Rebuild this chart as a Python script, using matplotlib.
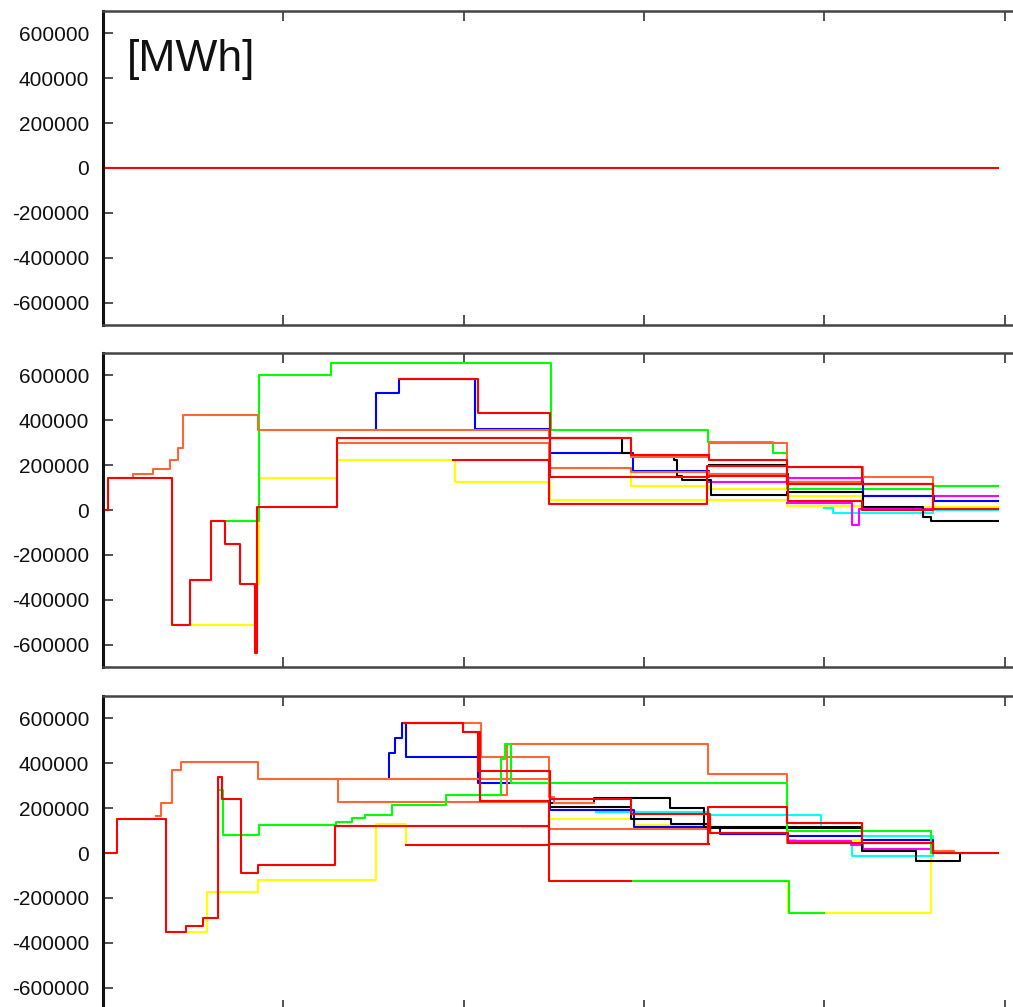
import matplotlib
matplotlib.use('Agg')
import matplotlib.pyplot as plt
from matplotlib.ticker import FuncFormatter

# energy balance series, y in thousand MWh, x in time units (ticks every 100)
# each series: (x, y) breakpoints, value holds until the next breakpoint

# top panel
p1_red = [(0, 0), (496, 0)]

# middle panel
p2_red_a = [(0, 0), (2.5, 142), (38.5, -511), (48, -311), (60, -49), (67.5, -151), (76, -329),
            (84, -636), (85.5, 13), (129.7, 321), (292.5, 244), (336, 225), (379.5, 193),
            (421, 118), (460, 3), (496, 3)]
p2_orange_a = [(9, 145), (16.6, 161), (27.7, 182), (37, 222), (41.5, 275), (44.3, 422), (86, 355),
               (247.5, 323), (292.5, 238), (336, 300), (379.5, 193), (421.5, 148), (460, 3), (496, 3)]
p2_orange_b = [(129.7, 297), (247.5, 188), (292.5, 170), (336, 160), (379.5, 126), (421, 118), (460, 3)]
p2_green = [(66.5, -49), (86.5, 600), (126.5, 655), (248.5, 355), (335.5, 303), (371.5, 256),
            (379.5, 93), (460.3, 107), (496, 107)]
p2_blue = [(149.7, 358), (151.5, 524), (164, 584), (206, 363), (248, 255), (294, 173), (336, 160),
           (380, 126), (421.5, 64), (460.5, 41), (496, 41)]
p2_red_c = [(164, 584), (208, 432), (248, 148), (336, 151), (380, 40), (421, 0), (460, 3)]
p2_red_d = [(194, 222), (247.5, 26), (335, 196), (379.5, 116), (421, 118), (460, 3)]
p2_yellow_a = [(46.5, -511), (84, -330), (86.5, 142), (129.7, 222), (195, 126), (248, 47),
               (379.5, 19), (421, 15), (496, 15)]
p2_yellow_b = [(248, 188), (292.7, 108), (336, 96), (379.5, 62), (421, 15)]
p2_black_a = [(248, 323), (288, 255), (292.7, 244), (316.5, 225), (318.5, 153), (321, 133),
              (337, 67), (379.5, 81), (421.5, 15), (454.5, -30), (459, -47), (496, -47)]
p2_black_b = [(336, 200), (379.5, 126), (421, 126)]
p2_magenta_a = [(336, 126), (379.5, 144), (421.5, 64), (496, 64)]
p2_magenta_b = [(379.5, 30), (415.5, -67), (419, 3), (460, 3)]
p2_cyan = [(400, 7), (405, -12), (460, 0), (496, 0)]

# bottom panel
p3_red_a = [(0, 0), (7.5, 150), (35, -353), (46, -327), (55.5, -290), (64, 338), (66, 240),
            (76.5, -90), (86, -53), (128.5, 120), (247.5, 42), (335.5, 206), (379.5, 135),
            (421, 44), (460, 0), (496, 0)]
p3_orange_a = [(29.5, 163), (32, 222), (38.5, 370), (43.5, 407), (86, 330), (247.5, 330)]
p3_orange_b = [(128.5, 330), (130.5, 228), (247.5, 109), (336, 100)]
p3_orange_c = [(219, 259), (224, 486), (335.5, 351), (379.5, 44), (460, 8), (472, 0)]
p3_orange_d = [(167, 581), (209.5, 427), (247.5, 250), (250, 222), (272, 222)]
p3_green_a = [(64.5, 280), (66.5, 80), (86.5, 127), (129, 139), (138, 154), (145, 169),
              (160.5, 216), (190, 259), (220.5, 420), (223, 486), (226, 311), (379.5, 96),
              (459, 0), (460, 0)]
p3_green_b = [(292.7, -125), (380.5, -268), (400, -268)]
p3_blue = [(157, 330), (158.5, 444), (162, 511), (166, 578), (168, 430), (208, 311), (248, 193),
           (294.5, 117), (342, 85), (379, 78), (421, 59), (460, 0)]
p3_red_c = [(167, 581), (199.5, 541), (208, 366), (248, 240), (292.7, 172), (336.5, 90),
            (380, 44), (460, 0)]
p3_red_d = [(167, 581), (199.5, 541), (209, 230), (247.5, 42), (336, 42)]
p3_red_e = [(168, 37), (247.5, -126), (292.7, -126)]
p3_yellow_a = [(45.5, -353), (57.5, -172), (86, -120), (151.5, 128), (168, 38), (247.5, -126),
               (380, -267), (459, 0), (460, 0)]
p3_yellow_b = [(232.5, 118), (247.5, 150), (295, 126), (337, 89), (380, 60), (421, 60)]
p3_black_a = [(248.5, 222), (272, 244), (314.5, 200), (333, 115), (421, 8), (451, -36),
              (475, 0), (476, 0)]
p3_black_b = [(248.5, 205), (293, 150), (315, 130), (336, 110), (421, 110)]
p3_cyan_a = [(273.5, 181), (336, 170), (398, 110), (421, 74), (460, 0)]
p3_cyan_b = [(380, 60), (384, 43), (415.5, -12), (460, 0)]
p3_magenta = [(379, 55), (415, 36), (421.5, 17), (460, 0)]

red = '#ff0000'
orange = '#ff6633'
green = '#00ff00'
blue = '#0000ff'
yellow = '#ffff00'
black = '#000000'
magenta = '#ff00ff'
cyan = '#00ffff'

# drawing order: first drawn ends up underneath
panels = [
    [(p1_red, red)],
    [(p2_yellow_a, yellow), (p2_yellow_b, yellow), (p2_green, green), (p2_cyan, cyan),
     (p2_magenta_a, magenta), (p2_magenta_b, magenta), (p2_blue, blue), (p2_black_a, black),
     (p2_black_b, black), (p2_orange_a, orange), (p2_orange_b, orange), (p2_red_c, red),
     (p2_red_d, red), (p2_red_a, red)],
    [(p3_yellow_a, yellow), (p3_green_b, green), (p3_yellow_b, yellow),
     (p3_cyan_a, cyan), (p3_cyan_b, cyan), (p3_magenta, magenta), (p3_blue, blue),
     (p3_black_a, black), (p3_black_b, black), (p3_orange_a, orange), (p3_orange_b, orange),
     (p3_orange_c, orange), (p3_orange_d, orange), (p3_green_a, green), (p3_red_d, red),
     (p3_red_e, red), (p3_red_c, red), (p3_red_a, red)],
]

plt.rcParams['font.family'] = ['Liberation Sans', 'DejaVu Sans']

fig = plt.figure(figsize=(10.13, 10.07), dpi=100)
rects = [[0.1017, 0.6773, 0.908, 0.3118],
         [0.1017, 0.3376, 0.908, 0.3118],
         [0.1017, -0.003, 0.908, 0.3118]]

for rect, series in zip(rects, panels):
    ax = fig.add_axes(rect)
    for pts, col in series:
        xs = [p[0] for p in pts]
        ys = [p[1] for p in pts]
        ax.plot(xs, ys, color=col, lw=1.5, drawstyle='steps-post')
    ax.set_xlim(0, 510)
    ax.set_ylim(-700, 700)
    ax.set_xticks(range(0, 501, 100))
    ax.set_xticklabels([])
    ax.set_yticks(range(-600, 601, 200))
    ax.yaxis.set_major_formatter(FuncFormatter(lambda v, p: f"{v * 1000:.0f}"))
    ax.tick_params(direction='in', top=True, right=True, length=7, width=1.2,
                   color='#333333', labelsize=15, pad=10, labelcolor='#111111')
    for name, sp in ax.spines.items():
        sp.set_color('#444444')
        sp.set_linewidth(1.8)
    ax.spines['left'].set_color('#111111')
    ax.spines['left'].set_linewidth(2.2)

fig.axes[0].text(0.026, 0.91, '[MWh]', transform=fig.axes[0].transAxes,
                 fontsize=32, va='top', ha='left', color='#111111')

plt.savefig('out.png', dpi=100)
